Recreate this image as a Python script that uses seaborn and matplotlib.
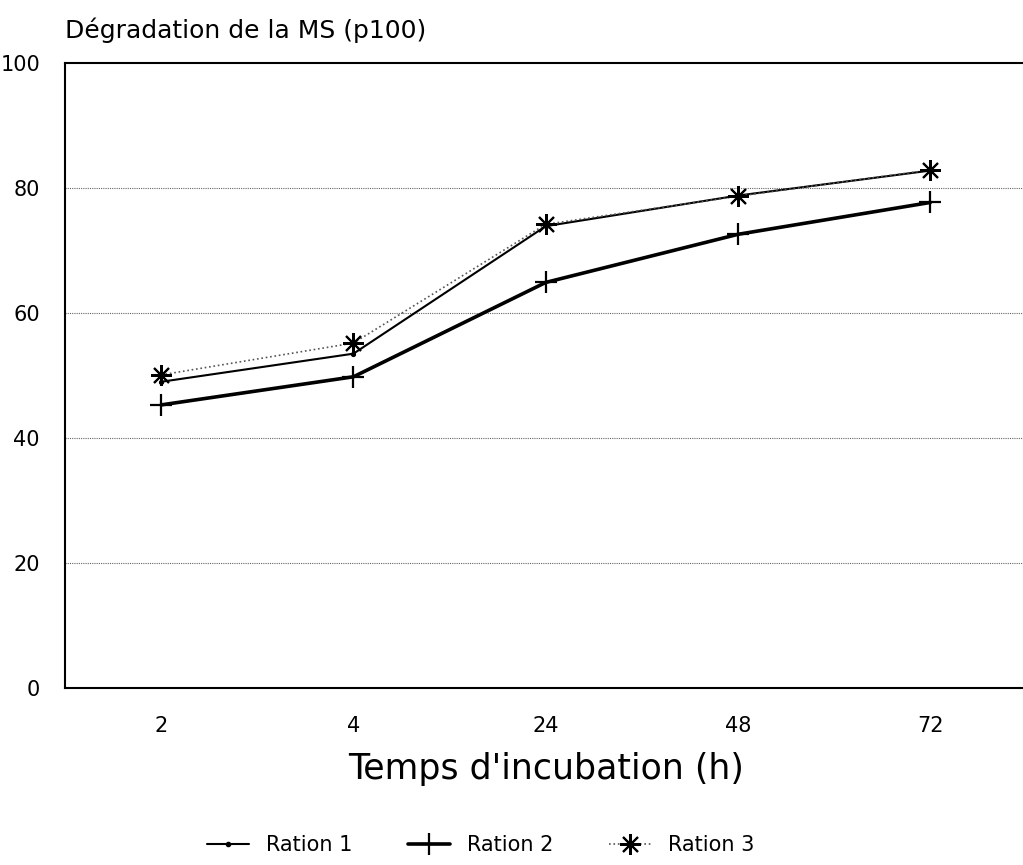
"""Dégradation de la MS selon le temps d'incubation, trois rations."""

import matplotlib
matplotlib.use("Agg")
import matplotlib.pyplot as plt
from matplotlib.lines import Line2D
import pandas as pd
import seaborn as sns

HOURS = ["2", "4", "24", "48", "72"]
RATION_1 = [49.0, 53.5, 73.9, 78.8, 82.8]
RATION_2 = [45.3, 49.8, 64.9, 72.6, 77.7]
RATION_3 = [50.1, 55.2, 74.2, 78.7, 82.9]
LABELS = ["Ration 1", "Ration 2", "Ration 3"]

sns.set_style("white")
plt.rcParams["font.family"] = ["DejaVu Sans"]
plt.rcParams["text.color"] = "black"
plt.rcParams["xtick.color"] = "black"
plt.rcParams["ytick.color"] = "black"
plt.rcParams["axes.labelcolor"] = "black"

fig = plt.figure(figsize=(10.23, 8.65), dpi=100)
ax = fig.add_axes([0.0635, 0.2046, 0.94, 0.7225])

styles = [
    dict(color="black", linewidth=1.5, linestyle="-", marker="o", markersize=3,
         markeredgecolor="black"),
    dict(color="black", linewidth=2.6, linestyle="-", marker="+", markersize=16,
         markeredgewidth=1.6, markeredgecolor="black"),
    dict(color="#555555", linewidth=1.2, linestyle=":", marker=(8, 2, 0),
         markersize=15, markeredgewidth=1.5, markeredgecolor="black"),
]

for label, values, st in zip(LABELS, [RATION_1, RATION_2, RATION_3], styles):
    df = pd.DataFrame({"heure": HOURS, "deg": values})
    sns.lineplot(data=df, x="heure", y="deg", ax=ax, sort=False, legend=False,
                 **st)

ax.set_ylim(0, 100)
ax.set_xlim(-0.5, 4.5)
ax.set_yticks([0, 20, 40, 60, 80, 100])
for y in [20, 40, 60, 80]:
    ax.axhline(y, color="#666666", linestyle=(0, (1, 1)), linewidth=0.8, zorder=0)

ax.tick_params(axis="both", length=0, labelsize=15)
ax.tick_params(axis="y", pad=18)
ax.tick_params(axis="x", pad=20)
for side in ["top", "left", "bottom"]:
    ax.spines[side].set_color("black")
    ax.spines[side].set_linewidth(1.5)
ax.spines["right"].set_visible(False)

ax.set_ylabel("")
ax.set_xlabel("Temps d'incubation (h)", fontsize=25, labelpad=12)
ax.set_title("Dégradation de la MS (p100)", loc="left", fontsize=18, pad=18)

handles = [Line2D([], [], **st) for st in styles]
fig.legend(handles, LABELS, loc="lower center", ncol=3, frameon=False,
           fontsize=15, bbox_to_anchor=(0.47, -0.01), handlelength=2.0,
           columnspacing=2.7)

fig.savefig("out.png", dpi=100)
